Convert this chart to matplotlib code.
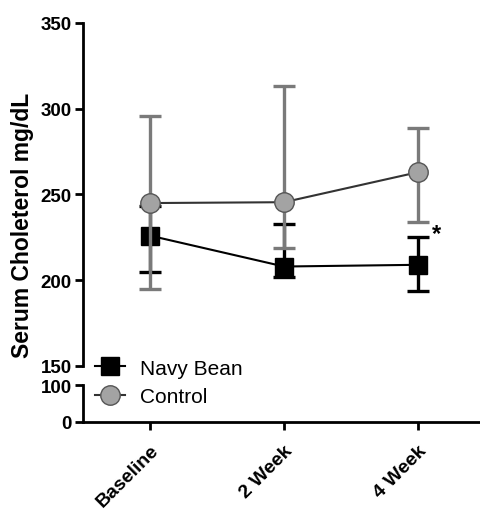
import matplotlib
matplotlib.use("Agg")
import matplotlib.pyplot as plt
import numpy as np
from matplotlib.lines import Line2D

plt.rcParams['font.family'] = ['Liberation Sans', 'DejaVu Sans']

# data
timepoints = ["Baseline", "2 Week", "4 Week"]
control_mean = [245, 245.5, 263]
control_upper = [296, 313, 289]
control_lower = [195, 219, 234]
navy_mean = [226, 208, 209]
navy_upper = [243, 233, 225]
navy_lower = [205, 202, 194]

upper_ticks = [150, 200, 250, 300, 350]
lower_ticks = [0, 100]

x = np.arange(len(timepoints))
fig = plt.figure(figsize=(4.8, 5.1), dpi=100)

ax = fig.add_axes([0.173, 0.2804, 0.8375, 0.6726])
axb = fig.add_axes([0.173, 0.1706, 0.8375, 0.0725])

gray = "#7a7a7a"
for a in (ax, axb):
    a.set_xlim(-0.5, 2.5)
    for s in ("top", "right"):
        a.spines[s].set_visible(False)
    a.spines["left"].set_linewidth(2)
    a.spines["bottom"].set_linewidth(2)
    a.tick_params(width=2, length=6, labelsize=13.5, pad=2)

ax.spines["bottom"].set_visible(False)
ax.set_xticks([])
ax.set_ylim(150, 350)
ax.set_yticks(upper_ticks)
ax.set_yticklabels([str(t) for t in upper_ticks], fontweight="bold")

axb.set_ylim(0, 100)
axb.set_yticks(lower_ticks)
axb.set_yticklabels([str(t) for t in lower_ticks], fontweight="bold")
axb.set_xticks(x)
axb.set_xticklabels(timepoints, rotation=45, ha="right", va="top",
                    rotation_mode="anchor", fontweight="bold", fontsize=14)
axb.tick_params(axis="x", pad=8)

nm = np.array(navy_mean)
cm = np.array(control_mean)
navy_err = [nm - np.array(navy_lower), np.array(navy_upper) - nm]
ctrl_err = [cm - np.array(control_lower), np.array(control_upper) - cm]

ax.errorbar(x, nm, yerr=navy_err, fmt="none", ecolor="black",
            elinewidth=2.4, capsize=8, capthick=2.4, zorder=2)
ax.plot(x, nm, color="black", lw=1.5, marker="s", markersize=13,
        markerfacecolor="black", markeredgecolor="black", zorder=3)
ax.errorbar(x, cm, yerr=ctrl_err, fmt="none", ecolor=gray,
            elinewidth=2.4, capsize=8, capthick=2.4, zorder=4)
ax.plot(x, cm, color="#333333", lw=1.5, marker="o", markersize=14,
        markerfacecolor="#a3a3a3", markeredgecolor="#555555",
        markeredgewidth=1, zorder=5)

ax.text(2.14, 227, "*", fontsize=17, fontweight="bold", ha="center", va="center")

fig.text(0.046, 0.559, "Serum Choleterol mg/dL", rotation=90, fontsize=16.5,
         fontweight="bold", ha="center", va="center")

handles = [
    Line2D([], [], color="black", lw=1.5, marker="s", markersize=13,
           markerfacecolor="black"),
    Line2D([], [], color="#333333", lw=1.5, marker="o", markersize=14,
           markerfacecolor="#a3a3a3", markeredgecolor="#555555"),
]
fig.legend(handles, ["Navy Bean", "Control"], loc="upper left",
           bbox_to_anchor=(0.198, 0.295), frameon=False, fontsize=15,
           handlelength=1.45, handletextpad=0.7, labelspacing=0.45,
           borderaxespad=0, borderpad=0)

fig.savefig("out.png", dpi=100)
